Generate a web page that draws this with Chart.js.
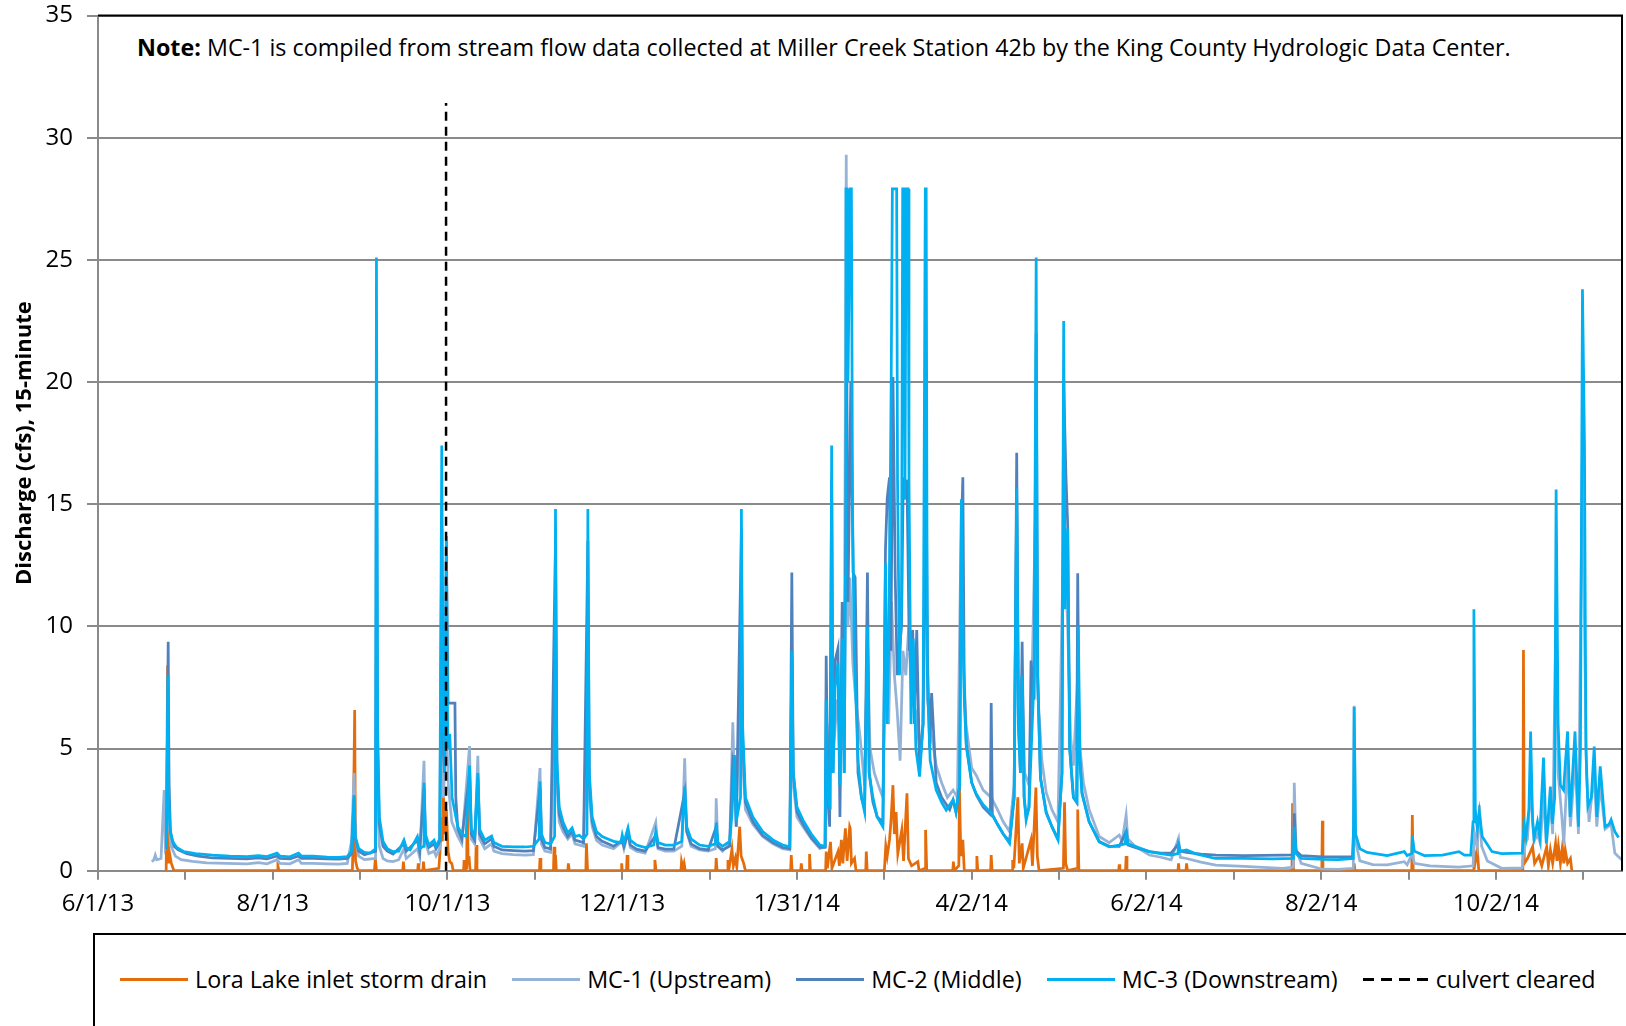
<!DOCTYPE html>
<html>
<head>
<meta charset="utf-8">
<script src="https://cdn.jsdelivr.net/npm/chart.js@4.4.1/dist/chart.umd.min.js"></script>
<style>
  html, body { margin: 0; padding: 0; background: #fff; }
  #wrap { position: relative; width: 1626px; height: 1026px; overflow: hidden; font-family: "Open Sans", sans-serif; color: #000; }
  canvas { display: block; }
  #note { position: absolute; left: 126px; top: 21px; width: 1420px; height: 82px; background: #fff; font-size: 23.3px; line-height: 28px; padding: 12px 0 0 11px; box-sizing: border-box; white-space: nowrap; }
  #legend { position: absolute; left: 93px; top: 933px; width: 1600px; height: 150px; border: 2px solid #000; box-sizing: border-box; background: #fff; display: flex; align-items: flex-start; padding: 30px 0 0 25px; font-size: 23.3px; line-height: 28px; white-space: nowrap; }
  .item { display: flex; align-items: center; margin-right: 25px; }
  .swatch { width: 68px; height: 3px; margin-right: 7px; }
  .dash { background: repeating-linear-gradient(to right, #000 0 11px, transparent 11px 18px); width: 66px; }
</style>
</head>
<body>
<div id="wrap">
  <canvas id="myChart" width="1626" height="1026"></canvas>
  <div id="note"><b>Note:</b> MC-1 is compiled from stream flow data collected at Miller Creek Station 42b by the King County Hydrologic Data Center.</div>
  <div id="legend"></div>
</div>
<script>
// days since 6/1/13, discharge in cfs
let loraLake = [
  [23.8, 0], [24.3, 8.4], [24.6, 0.3], [25, 0.7], [25.6, 0.3], [26.5, 0], [62.5, 0], [62.8, 0.2], [63.2, 0],
  [88.8, 0], [89.1, 1.5], [89.6, 6.58], [89.9, 0.4], [90.5, 0.1], [91, 0], [96.5, 0], [96.8, 0.5], [97.2, 0],
  [106.4, 0], [106.6, 0.37], [106.9, 0], [111.6, 0], [111.8, 0.3], [112, 0], [113.4, 0], [113.6, 0.37], [113.9, 0],
  [119, 0.1], [119.4, 0.8], [119.8, 2.2], [120.2, 1.2], [120.6, 3.0], [121, 1.5], [121.6, 2.5], [122.2, 0.8],
  [122.8, 0.37], [123.5, 0.3], [124, 0], [127.6, 0], [127.8, 0.44], [128.1, 0], [128.7, 0.1], [128.9, 3.3],
  [129.2, 0.3], [129.5, 0.6], [129.9, 0], [131.8, 0], [132, 1.05], [132.3, 0], [154.1, 0], [154.3, 0.52],
  [154.6, 0], [159, 0], [159.2, 0.98], [159.5, 0.2], [159.7, 0.64], [160, 0], [164, 0], [164.2, 0.3], [164.5, 0],
  [170.3, 0], [170.5, 1.12], [170.9, 0], [182.6, 0], [182.8, 0.3], [183, 0], [184.5, 0], [184.7, 0.64], [185, 0],
  [194.2, 0], [194.4, 0.44], [194.8, 0], [203.5, 0], [203.7, 0.37], [204.2, 0.1], [204.6, 0.3], [205, 0],
  [215.6, 0], [215.8, 0.52], [216.1, 0], [219.7, 0], [219.9, 0.44], [220.3, 0.1], [221.3, 0.88], [221.8, 0.2],
  [222.5, 0.52], [223, 0.15], [224, 1.8], [224.5, 0.6], [225.4, 0.3], [226, 0], [241.8, 0], [242, 0.64],
  [242.3, 0], [245.3, 0], [245.5, 0.3], [245.8, 0], [248.2, 0], [248.4, 0.68], [248.7, 0], [254, 0],
  [254.2, 0.78], [254.6, 0.1], [255.7, 1.18], [256.2, 0.1], [258.3, 0.78], [258.8, 0.2], [259.5, 1.26],
  [260, 0.3], [260.9, 1.73], [261.5, 0.4], [262.4, 1.8], [262.6, 1.73], [263, 0.3], [264.1, 0.5], [264.6, 0],
  [268, 0], [268.2, 0.78], [268.5, 0], [274.5, 0], [275, 1.0], [275.5, 0.6], [276.3, 1.26], [276.8, 2.0],
  [277.5, 3.5], [278, 1.5], [278.6, 2.4], [279.2, 0.7], [280.6, 1.67], [281.2, 0.4], [282.4, 3.17], [282.9, 0.5],
  [284, 0.2], [286.2, 0.37], [286.6, 0], [288.7, 0.1], [288.9, 1.67], [289.3, 0], [298.4, 0], [298.6, 0.37],
  [298.9, 0], [300.5, 0.2], [300.7, 3.44], [301.2, 0.6], [301.9, 1.26], [302.4, 0], [306.6, 0], [306.8, 0.6],
  [307.1, 0], [311.6, 0], [311.8, 0.64], [312.1, 0], [319.1, 0], [319.3, 0.44], [319.7, 0.1], [321.1, 3.0],
  [321.6, 0.3], [322.6, 1.12], [323, 0.1], [325.7, 1.26], [326.2, 0.2], [327.4, 3.4], [327.9, 0.6], [328.5, 0],
  [337, 0.1], [337.4, 2.8], [337.8, 0.3], [338.5, 0], [341.8, 0.1], [342, 2.5], [342.4, 0], [356.3, 0],
  [356.5, 0.26], [356.7, 0], [358.7, 0], [358.9, 0.6], [359.2, 0], [377, 0], [377.2, 0.3], [377.4, 0],
  [379.8, 0], [380, 0.3], [380.3, 0], [416.8, 0], [417, 2.76], [417.4, 0], [427.2, 0], [427.4, 2.04],
  [427.6, 0], [438.3, 0], [438.5, 0.3], [438.8, 0], [458.6, 0], [458.8, 2.28], [459.1, 0], [480, 0],
  [480.3, 0.85], [480.7, 0.3], [481.5, 0.85], [482, 0], [497.4, 0], [497.6, 9.03], [497.9, 0.3], [499, 0.5],
  [500.8, 0.98], [501.5, 0.3], [503, 0.6], [504, 0.2], [505.7, 0.98], [506.3, 0.2], [507, 0.85], [507.8, 0.3],
  [508.8, 1.12], [509.3, 0.4], [509.8, 1.0], [510.5, 0.3], [511.2, 0.98], [511.7, 0.3], [512.2, 0.85],
  [513, 0.3], [514, 0.5], [514.5, 0]
];

let mc1Upstream = [
  [18.8, 0.37], [19.5, 0.45], [20, 0.64], [20.5, 0.45], [22, 0.5], [23.1, 3.3], [23.5, 1.0], [24, 1.2],
  [24.5, 6], [24.9, 2], [25.5, 1.0], [27, 0.6], [29, 0.45], [33, 0.38], [38, 0.32], [45, 0.3], [52, 0.28],
  [56, 0.33], [59, 0.28], [62.5, 0.45], [63.5, 0.3], [67, 0.28], [70, 0.45], [71, 0.3], [75, 0.3], [80, 0.28],
  [84, 0.27], [87, 0.3], [88.5, 1.2], [89.4, 4.0], [89.9, 1.3], [91, 0.6], [93, 0.45], [96.9, 0.5], [97.2, 10],
  [97.6, 3], [98.2, 1.0], [99.5, 0.5], [101, 0.4], [103, 0.37], [105, 0.45], [106.8, 0.9], [107.6, 0.5],
  [111.5, 0.9], [112.3, 0.55], [113.8, 4.5], [114.3, 1.2], [115.5, 0.7], [117.3, 0.8], [118, 0.6], [119.3, 0.9],
  [120, 8], [120.6, 3], [121.6, 6], [122.3, 3.5], [123.5, 2.0], [125.6, 1.4], [127, 1.1], [129.7, 5.1],
  [130.3, 1.3], [131.5, 1.1], [132.6, 4.7], [133.2, 1.3], [135, 0.9], [137.4, 1.1], [138.2, 0.8], [141, 0.7],
  [145, 0.66], [149, 0.64], [152, 0.66], [154.3, 4.2], [154.8, 1.1], [156, 0.8], [158, 0.75], [159.7, 10],
  [160.2, 3.5], [161, 2.0], [162.3, 1.6], [164, 1.3], [165.5, 1.5], [166.5, 1.1], [169.5, 1.0], [171, 9],
  [171.5, 3], [172.5, 1.8], [174, 1.25], [176, 1.05], [180, 0.9], [183, 1.2], [183.6, 0.9], [185, 1.6],
  [185.8, 0.95], [188, 0.8], [191, 0.72], [194.7, 1.98], [195.5, 0.9], [198, 0.8], [201, 0.8], [203.8, 1.0],
  [204.8, 4.6], [205.5, 1.6], [207, 1.0], [210, 0.85], [213, 0.8], [215.5, 0.9], [215.8, 2.96], [216.4, 1.0],
  [218, 0.8], [220.5, 1.1], [221.6, 6.07], [222.2, 3.5], [222.8, 1.8], [224.6, 10], [225, 4.5], [226, 2.5],
  [228.6, 1.9], [232, 1.4], [235.6, 1.1], [239, 0.9], [241.5, 0.85], [242.2, 8.6], [242.7, 3.5], [244, 2.2],
  [246.1, 1.8], [249, 1.3], [252, 0.9], [254, 1.0], [254.5, 6], [255.2, 2.5], [256.1, 10], [256.8, 5], [258, 7],
  [259.5, 5], [259.8, 11], [260.5, 7], [261.2, 29.3], [261.8, 10], [262.5, 12], [263.5, 8.5], [264.5, 7],
  [266, 5.5], [267.6, 3.5], [268.6, 9.5], [269.5, 5], [271, 4], [273, 3.3], [274, 3.0], [275, 9], [276, 6],
  [277, 11], [278, 8], [279, 6.5], [280, 4.5], [281, 9], [282, 8], [283, 10], [284, 7], [285.5, 6.5],
  [286.8, 5], [288, 6], [288.9, 17], [289.5, 7], [291, 5.5], [292.6, 4.3], [294.5, 3.6], [296.5, 3.0],
  [298.5, 3.3], [300, 3.0], [301.4, 15], [302, 9], [303, 6], [305, 4.2], [306.6, 3.9], [309, 3.3], [311.8, 3.0],
  [314, 2.5], [316, 2.0], [318.2, 1.6], [319.8, 3.5], [320.7, 15], [321.3, 7], [322.6, 8], [323.5, 4],
  [325, 3.5], [325.7, 6], [327.5, 16], [328.2, 7], [329.5, 4.5], [331, 3.2], [333, 2.5], [335.1, 2.0],
  [337.1, 14], [338.5, 10], [339.5, 5.5], [340.5, 4.3], [342, 8], [342.8, 5], [344, 3.6], [346, 2.5],
  [349.5, 1.4], [353, 1.15], [356.5, 1.46], [357.5, 1.2], [358.9, 2.28], [359.5, 1.3], [362, 1.0], [367, 0.64],
  [371, 0.55], [374.6, 0.44], [377.2, 1.33], [377.8, 0.55], [380, 0.5], [385, 0.35], [390.2, 0.23], [400, 0.18],
  [413.5, 0.1], [417.3, 0.15], [417.6, 3.6], [418.2, 0.9], [420, 0.3], [427.4, 0.06], [433, 0.05], [438.2, 0.1],
  [438.5, 6.75], [439, 1.2], [440.5, 0.4], [445, 0.25], [450, 0.24], [456, 0.37], [457, 0.24], [458.8, 0.72],
  [459.5, 0.3], [465, 0.2], [475, 0.15], [480, 0.2], [480.6, 1.5], [481.5, 1.0], [482.2, 2.69], [483, 1.0],
  [485, 0.4], [490, 0.1], [497.2, 0.12], [497.8, 1.0], [499, 1.3], [500.1, 3.44], [501.3, 1.2], [502.5, 1.5],
  [503.5, 1.1], [504.6, 3.1], [505.6, 1.1], [507, 2.8], [507.8, 1.5], [509, 11], [509.7, 4], [511, 2.2],
  [511.7, 1.1], [513, 4.5], [514, 1.8], [515.6, 4.5], [516.8, 1.5], [518.2, 17.5], [518.9, 10], [519.6, 4],
  [520.5, 2.0], [522.3, 4], [523.2, 1.8], [524.4, 3.5], [526.1, 1.7], [528.2, 1.9], [529.5, 0.72], [530.5, 0.6],
  [532, 0.44]
];

let mc2Middle = [
  [23.9, 0.9], [24.5, 9.37], [24.8, 3.5], [25.3, 1.6], [26.5, 1.0], [28, 0.85], [31, 0.7], [35, 0.6], [40, 0.52],
  [46, 0.5], [52, 0.48], [56, 0.52], [59, 0.48], [62.5, 0.6], [63.5, 0.5], [67, 0.48], [70, 0.6], [71, 0.5],
  [75, 0.5], [80, 0.48], [84, 0.47], [87, 0.5], [88.5, 0.7], [89.4, 3.0], [89.8, 1.3], [91, 0.8], [93, 0.65],
  [96.9, 0.8], [97.2, 20], [97.6, 5], [98.2, 1.9], [99.5, 1.0], [101, 0.8], [103, 0.68], [106.8, 1.1],
  [107.6, 0.8], [111.5, 1.25], [112.3, 0.8], [113.8, 3.4], [114.3, 1.3], [115.5, 0.95], [117.3, 1.1], [118, 0.9],
  [119.3, 1.2], [120, 14], [120.5, 5], [121, 4], [121.6, 13.5], [122.2, 6.86], [124.6, 6.86], [124.9, 3],
  [125.6, 1.7], [127, 1.3], [129.7, 4.0], [130.3, 1.5], [131.5, 1.25], [132.6, 3.8], [133.2, 1.5], [135, 1.1],
  [137.4, 1.3], [138.2, 1.0], [141, 0.85], [145, 0.82], [149, 0.8], [152, 0.82], [154.3, 3.4], [154.8, 1.3],
  [156, 0.95], [158, 0.9], [159.7, 13.5], [160.2, 4.2], [161, 2.3], [162.3, 1.8], [164, 1.4], [165.5, 1.6],
  [166.5, 1.25], [169.5, 1.15], [171, 13.5], [171.5, 3.6], [172.5, 2.0], [174, 1.4], [176, 1.2], [180, 1.0],
  [183, 1.25], [183.6, 1.0], [185, 1.55], [185.8, 1.05], [188, 0.88], [191, 0.8], [194.7, 1.45], [195.5, 0.95],
  [198, 0.88], [201, 0.88], [204.8, 3.2], [205.5, 1.6], [207, 1.1], [210, 0.9], [213, 0.85], [215.8, 1.8],
  [216.4, 1.0], [218, 0.85], [220.5, 1.0], [221.6, 4.5], [222.2, 4.2], [222.8, 1.8], [224.6, 14.0], [225, 5.5],
  [226, 2.8], [228.6, 2.0], [232, 1.45], [235.6, 1.15], [239, 0.95], [241.5, 0.9], [242.2, 12.2], [242.7, 4],
  [244, 2.4], [246.1, 1.9], [249, 1.35], [252, 0.95], [253.8, 0.95], [254.2, 8.8], [254.8, 3], [255.4, 1.8],
  [256.1, 16], [256.6, 4], [257.3, 8.6], [258.3, 9.1], [259, 2.2], [259.8, 11.0], [260.5, 4], [261.3, 20],
  [261.8, 11], [262.8, 20], [263.6, 12.2], [264.3, 12], [265.3, 4], [266.5, 3.0], [267.6, 2.57], [268.6, 12.2],
  [269.2, 4.0], [270.5, 2.8], [272, 2.2], [274, 2.0], [274.9, 13.2], [275.5, 15.25], [276.3, 16.1], [276.8, 9],
  [277.5, 20.2], [278.3, 12], [279, 8], [280.5, 10], [281.1, 16.1], [281.7, 15.2], [282.4, 16], [283.2, 9],
  [284.4, 9.85], [285, 6], [285.8, 9.85], [286.8, 4.2], [288, 6], [289.1, 16], [289.6, 8.5], [290.3, 5],
  [291, 7.27], [292.6, 3.6], [294.5, 3.0], [297.3, 2.5], [298.5, 2.9], [299.5, 2.4], [300.8, 3.5], [301.4, 14],
  [301.9, 16.1], [302.4, 7.5], [303.1, 5.2], [305, 3.6], [306.6, 3.1], [309, 2.6], [311.5, 2.3], [311.8, 6.86],
  [312.2, 2.3], [314, 1.9], [316, 1.5], [318.2, 1.2], [319.8, 3.0], [320.7, 17.1], [321.3, 6], [322, 4],
  [322.6, 9.37], [323.3, 3], [324, 2.2], [325, 2.6], [325.7, 8.6], [326.8, 7], [327.5, 22], [328, 8], [329, 3.8],
  [331, 2.4], [333, 1.8], [335.1, 1.3], [336.5, 4], [337.1, 20], [337.9, 16.1], [338.5, 14.15], [339.2, 5],
  [340.5, 3.0], [341.6, 2.8], [342, 12.17], [342.5, 5], [343.5, 3.2], [346, 2.0], [349.5, 1.2], [353, 1.0],
  [356.5, 1.0], [358.9, 1.6], [359.5, 1.05], [362, 0.95], [367, 0.78], [371, 0.72], [374.6, 0.72], [377.2, 1.1],
  [377.8, 0.8], [380, 0.75], [385, 0.68], [390.2, 0.64], [400, 0.62], [413.5, 0.64], [417.3, 0.65],
  [417.6, 2.35], [418.2, 0.8], [420, 0.62], [427.4, 0.57], [433, 0.57], [437.9, 0.58], [438.3, 1.7]
];

let mc3Downstream = [
  [23.9, 0.9], [24.4, 8.0], [24.7, 3.0], [25.2, 1.6], [26, 1.2], [27.5, 0.95], [30, 0.78], [34, 0.7], [40, 0.64],
  [46, 0.6], [52, 0.58], [56, 0.62], [59, 0.58], [62.5, 0.72], [63.5, 0.6], [67, 0.57], [70, 0.72], [71, 0.6],
  [75, 0.6], [80, 0.56], [84, 0.55], [87, 0.58], [88.5, 0.8], [89.4, 3.1], [89.8, 1.4], [91, 0.9], [93, 0.75],
  [95, 0.72], [96.9, 0.9], [97.2, 25.1], [97.6, 6], [98.2, 2.2], [99.5, 1.2], [101, 0.9], [103, 0.78], [105, 0.8],
  [106.8, 1.25], [107.6, 0.95], [109, 0.85], [111.5, 1.4], [112.3, 0.9], [113.5, 1.0], [113.8, 3.6], [114.3, 1.5],
  [115.5, 1.05], [117.3, 1.25], [118, 1.0], [119.3, 1.3], [120, 17.4], [120.5, 6], [121, 4], [121.6, 13.7],
  [122.1, 5], [122.8, 5.6], [123.6, 3.0], [124.6, 2.4], [125.6, 1.8], [127, 1.5], [128.5, 1.4], [129.7, 4.3],
  [130.3, 1.7], [131.5, 1.4], [132.6, 4.0], [133.2, 1.7], [135, 1.25], [137.4, 1.42], [138.2, 1.15], [141, 1.0],
  [145, 0.98], [149, 0.97], [152, 1.0], [154, 1.3], [154.3, 3.65], [154.8, 1.5], [156, 1.15], [158, 1.1],
  [159.4, 1.4], [159.7, 14.8], [160.2, 4.5], [161, 2.6], [162.3, 2.0], [164, 1.55], [165.5, 1.75], [166.5, 1.4],
  [168, 1.45], [169.5, 1.3], [170.7, 1.5], [171, 14.8], [171.5, 4], [172.5, 2.2], [174, 1.6], [176, 1.4],
  [178, 1.3], [180, 1.2], [182.5, 1.15], [183, 1.46], [183.6, 1.15], [185, 1.75], [185.8, 1.25], [188, 1.05],
  [191, 0.95], [194, 1.05], [194.7, 1.6], [195.5, 1.15], [198, 1.05], [201, 1.05], [203.8, 1.2], [204.8, 3.44],
  [205.5, 1.8], [207, 1.3], [210, 1.05], [213, 1.0], [215.5, 1.1], [215.8, 1.95], [216.4, 1.15], [218, 1.0],
  [220.5, 1.2], [221.3, 2.3], [222.2, 4.73], [222.8, 2.0], [224.3, 3.0], [224.6, 14.8], [225, 6], [226, 3.0],
  [228.6, 2.2], [232, 1.6], [235.6, 1.26], [239, 1.05], [241.5, 0.98], [242.2, 9.0], [242.7, 4], [244, 2.6],
  [246.1, 2.07], [249, 1.5], [252, 1.05], [253.8, 1.0], [254.2, 7.0], [254.8, 3], [255.6, 2.5], [256.1, 17.4],
  [256.6, 4], [257.3, 7.5], [258.3, 8.5], [259, 3.5], [259.8, 9.5], [260.5, 4], [260.9, 12], [261.1, 27.9],
  [261.5, 27.9], [261.8, 20], [262.6, 27.9], [263, 27.9], [263.4, 14.7], [264, 9], [265.3, 4.5], [266.5, 3.0],
  [267.6, 2.4], [268.6, 10], [269.2, 4.0], [270.5, 3.0], [272, 2.2], [274, 1.8], [274.9, 12.6], [275.5, 6],
  [276, 9], [276.6, 16], [276.9, 20.2], [277.3, 27.9], [278.8, 27.9], [279.1, 16], [279.8, 8], [280.5, 11],
  [280.9, 27.9], [281.4, 27.9], [281.7, 15.2], [282.1, 27.9], [282.8, 27.9], [283.1, 16], [283.8, 6], [284.6, 9.5],
  [285.5, 5], [286.8, 3.85], [288, 6], [288.8, 27.9], [289.1, 27.9], [289.5, 8], [290.5, 4.5], [292.6, 3.3],
  [294.5, 2.8], [296.1, 2.48], [298.5, 2.9], [299.5, 2.4], [300.8, 3.5], [301.4, 15.2], [301.9, 10], [302.4, 7],
  [303.1, 5.08], [305, 3.6], [306.6, 3.14], [309, 2.7], [311.8, 2.36], [314, 1.9], [316, 1.5], [318.2, 1.12],
  [319.8, 3.0], [320.7, 15.65], [321.3, 6], [322, 4], [322.6, 8.0], [323.3, 3], [324, 2.07], [325, 2.6],
  [325.8, 5], [326.8, 8], [327.5, 25.1], [328, 8], [329, 3.8], [331, 2.36], [333, 1.8], [335.1, 1.26], [336.5, 4],
  [337.1, 22.5], [337.6, 10.7], [338.5, 14], [339.2, 5], [340.5, 3.0], [341.8, 2.8], [342.2, 10], [342.8, 4.5],
  [343.5, 3.14], [346, 2.0], [349.5, 1.18], [353, 0.98], [356.5, 1.05], [358.6, 1.1], [358.9, 1.67], [359.5, 1.1],
  [362, 1.0], [367, 0.78], [371, 0.7], [374.6, 0.64], [377, 0.7], [377.2, 1.05], [377.8, 0.8], [380, 0.85],
  [383, 0.7], [390, 0.5], [400, 0.5], [410, 0.48], [417.3, 0.5], [417.6, 1.8], [418.2, 0.7], [420, 0.5],
  [428, 0.46], [433, 0.45], [438.2, 0.5], [438.5, 6.7], [439, 1.5], [440.5, 0.9], [443, 0.75], [450, 0.62],
  [456, 0.78], [457, 0.62], [458.6, 0.7], [458.8, 1.42], [459.5, 0.8], [463, 0.62], [469.3, 0.64], [475.1, 0.78],
  [477, 0.64], [479.2, 0.64], [480, 2.0], [480.3, 10.7], [480.8, 2.5], [481.5, 1.7], [482.2, 2.4], [483.2, 1.4],
  [486.6, 0.78], [490, 0.7], [497.2, 0.72], [497.8, 1.94], [498.5, 1.4], [499.5, 2.5], [500.1, 5.7], [500.8, 2.0],
  [501.3, 1.33], [502.5, 2.0], [503.3, 1.4], [504.6, 4.63], [505.6, 1.12], [507, 3.44], [507.7, 1.92],
  [508.5, 3], [509, 15.6], [509.7, 6], [510.5, 3.5], [511.6, 3.3], [513, 5.7], [513.9, 2.2], [515.6, 5.7],
  [516.8, 1.8], [517.5, 5], [518.2, 23.8], [518.9, 17.5], [519.4, 5], [520.1, 2.62], [521.3, 3], [522.3, 5.08],
  [523.2, 2.2], [524.4, 4.27], [526.1, 1.8], [527.5, 1.9], [528.2, 2.09], [529.5, 1.6], [530.8, 1.36]
];

let culvertDay = 121.5;

let seriesNames = ['Lora Lake inlet storm drain', 'MC-1 (Upstream)', 'MC-2 (Middle)', 'MC-3 (Downstream)', 'culvert cleared'];
let seriesColors = ['#E46C0A', '#95B3D7', '#4F81BD', '#00B0F0', '#000000'];

// x ticks every 30.5 days, labelled every other one
let xTickDays = [0, 30.5, 61, 91.5, 122, 152.5, 183, 213.5, 244, 274.5, 305, 335.5, 366, 396.5, 427, 457.5, 488, 518.5];
let xTickLabels = ['6/1/13', '8/1/13', '10/1/13', '12/1/13', '1/31/14', '4/2/14', '6/2/14', '8/2/14', '10/2/14'];
let xMax = 532;
let yMax = 35;
let yStep = 5;

function toPoints(pairs) {
  return pairs.map(p => ({ x: p[0], y: p[1] }));
}

let allSeries = [loraLake, mc1Upstream, mc2Middle, mc3Downstream, [[culvertDay, 0], [culvertDay, yMax]]];

let datasets = [];
for (let i = 0; i < allSeries.length; i++) {
  datasets.push({
    label: seriesNames[i],
    data: toPoints(allSeries[i]),
    borderColor: seriesColors[i],
    backgroundColor: seriesColors[i],
    borderWidth: i === 4 ? 2.5 : 2.75,
    borderDash: i === 4 ? [9, 6] : [],
    pointRadius: 0,
    tension: 0,
    order: allSeries.length - i
  });
}

let gray = '#8a8a8a';
let tickFont = { family: 'Open Sans', size: 24 };

const frame = {
  id: 'frame',
  afterDatasetsDraw(chart) {
    let ctx = chart.ctx;
    let a = chart.chartArea;
    ctx.save();
    ctx.strokeStyle = '#000';
    ctx.lineWidth = 2;
    ctx.beginPath();
    ctx.moveTo(a.left, a.top);
    ctx.lineTo(a.right, a.top);
    ctx.lineTo(a.right, a.bottom);
    ctx.stroke();
    ctx.restore();
  }
};

const config = {
  type: 'line',
  data: { datasets: datasets },
  options: {
    responsive: false,
    animation: false,
    events: [],
    layout: { autoPadding: false, padding: { top: 15.5, right: 4, bottom: 95.3, left: 0 } },
    plugins: { legend: { display: false }, tooltip: { enabled: false } },
    scales: {
      x: {
        type: 'linear',
        min: 0,
        max: xMax,
        afterBuildTicks: s => { s.ticks = xTickDays.map(v => ({ value: v })); },
        afterFit: s => { s.height = 60; },
        grid: { drawOnChartArea: false, drawTicks: true, tickLength: 9, color: gray, lineWidth: 2 },
        border: { color: gray, width: 2 },
        ticks: {
          autoSkip: false,
          maxRotation: 0,
          padding: 10,
          color: '#000',
          font: tickFont,
          callback: (v, i) => (i % 2 === 0 ? xTickLabels[i / 2] : '')
        }
      },
      y: {
        min: 0,
        max: yMax,
        afterFit: s => { s.width = 98; s.paddingTop = 0; s.paddingBottom = 0; },
        grid: { color: gray, lineWidth: 2, tickLength: 11 },
        border: { color: gray, width: 2 },
        ticks: { stepSize: yStep, padding: 14, color: '#000', font: tickFont },
        title: {
          display: true,
          text: 'Discharge (cfs), 15-minute',
          color: '#000',
          font: { family: 'Open Sans', size: 22, weight: 'bold' },
          padding: { top: 12, bottom: 0 }
        }
      }
    }
  },
  plugins: [frame]
};

let canvasChart = document.getElementById('myChart');
new Chart(canvasChart, config);

// legend box below the chart
let legendBox = document.getElementById('legend');
for (let i = 0; i < seriesNames.length; i++) {
  let item = document.createElement('div');
  item.className = 'item';
  let swatch = document.createElement('div');
  swatch.className = i === 4 ? 'swatch dash' : 'swatch';
  if (i !== 4) swatch.style.background = seriesColors[i];
  let label = document.createElement('span');
  label.textContent = seriesNames[i];
  item.appendChild(swatch);
  item.appendChild(label);
  legendBox.appendChild(item);
}
</script>
</body>
</html>
